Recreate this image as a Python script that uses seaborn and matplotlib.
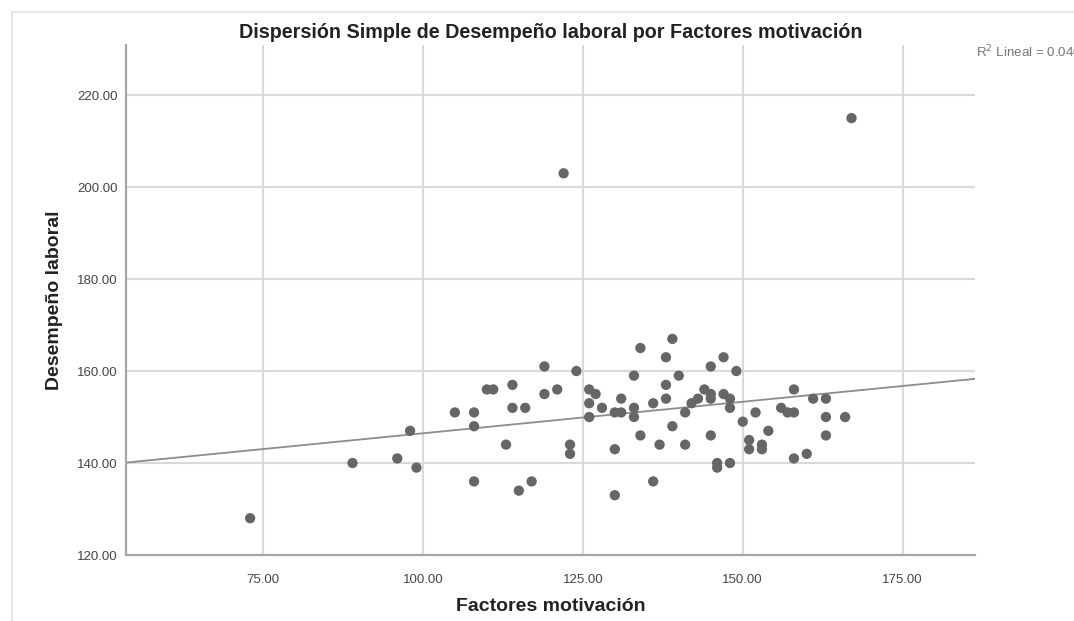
import numpy as np
import pandas as pd
import matplotlib
matplotlib.use('Agg')
import matplotlib.pyplot as plt
import seaborn as sns
from matplotlib.patches import Rectangle

# Data
factores = [73, 89, 96, 98, 99, 105, 108, 108, 108, 110, 111, 113, 114, 114, 115, 116, 117,
            119, 119, 121, 122, 123, 123, 124, 126, 127, 126, 126, 128, 130, 131, 131, 130, 130,
            133, 133, 133, 134, 134, 136, 136, 137, 138, 138, 138, 139, 139, 140, 141, 141,
            142, 143, 144, 145, 145, 145, 145, 146, 146, 147, 147, 148, 148, 148, 149, 150,
            151, 151, 152, 153, 153, 154, 156, 157, 158, 158, 158, 160, 161, 163, 163, 163,
            166, 167]
desempeno = [128, 140, 141, 147, 139, 151, 151, 148, 136, 156, 156, 144, 157, 152, 134, 152, 136,
             161, 155, 156, 203, 144, 142, 160, 156, 155, 153, 150, 152, 151, 151, 154, 143, 133,
             152, 150, 159, 165, 146, 153, 136, 144, 163, 157, 154, 167, 148, 159, 151, 144,
             153, 154, 156, 155, 154, 161, 146, 140, 139, 163, 155, 154, 152, 140, 160, 149,
             145, 143, 151, 144, 143, 147, 152, 151, 151, 156, 141, 142, 154, 154, 150, 146,
             150, 215]
x_ticks = [75, 100, 125, 150, 175]
y_ticks = [120, 140, 160, 180, 200, 220]
r2_text = 'R$^2$ Lineal = 0.040'

df = pd.DataFrame({'Factores motivación': factores, 'Desempeño laboral': desempeno})

sns.set_style('white')
plt.rcParams['font.family'] = ['Liberation Sans', 'DejaVu Sans']

fig = plt.figure(figsize=(10.74, 6.21), dpi=100)
fig.patch.set_facecolor('white')

# light chart frame like the SPSS viewer
fig.patches.append(Rectangle((12 / 1074, -0.1), 1.2, 1 - 12 / 621 + 0.1, transform=fig.transFigure,
                             fill=False, edgecolor='#e3e8e8', linewidth=1.5))

ax = fig.add_axes([126 / 1074, 1 - 555 / 621, (975 - 126) / 1074, (555 - 45) / 621])
ax.set_xlim(53.6, 186.3)
ax.set_ylim(120, 230.9)

sns.regplot(data=df, x='Factores motivación', y='Desempeño laboral', ax=ax, ci=None,
            truncate=False,
            scatter_kws={'s': 55, 'color': '#666666', 'edgecolor': 'none', 'zorder': 3, 'alpha': 1},
            line_kws={'color': '#8c8c8c', 'linewidth': 1.3, 'zorder': 2})
ax.set_xlim(53.6, 186.3)
ax.set_ylim(120, 230.9)

ax.set_xticks(x_ticks)
ax.set_yticks(y_ticks)
ax.set_xticklabels([f'{v:.2f}' for v in x_ticks])
ax.set_yticklabels([f'{v:.2f}' for v in y_ticks])
ax.tick_params(axis='both', length=0, labelsize=9.5, colors='#444444')
ax.tick_params(axis='x', pad=14)
ax.tick_params(axis='y', pad=6)
ax.grid(True, color='#d9d9d9', linewidth=1.5, zorder=0)
ax.set_axisbelow(True)

for side in ['top', 'right']:
    ax.spines[side].set_visible(False)
for side in ['left', 'bottom']:
    ax.spines[side].set_color('#a6a6a6')
    ax.spines[side].set_linewidth(1.6)

ax.set_title('Dispersión Simple de Desempeño laboral por Factores motivación',
             fontsize=14.2, fontweight='bold', color='#222222', pad=5)
ax.set_xlabel('Factores motivación', fontsize=14, fontweight='bold', color='#222222', labelpad=8)
ax.set_ylabel('Desempeño laboral', fontsize=14, fontweight='bold', color='#222222', labelpad=10)

fig.text(976 / 1074, 1 - 57 / 621, r2_text, fontsize=9.6, color='#777777', ha='left', va='baseline')

fig.savefig('out.png', dpi=100)
